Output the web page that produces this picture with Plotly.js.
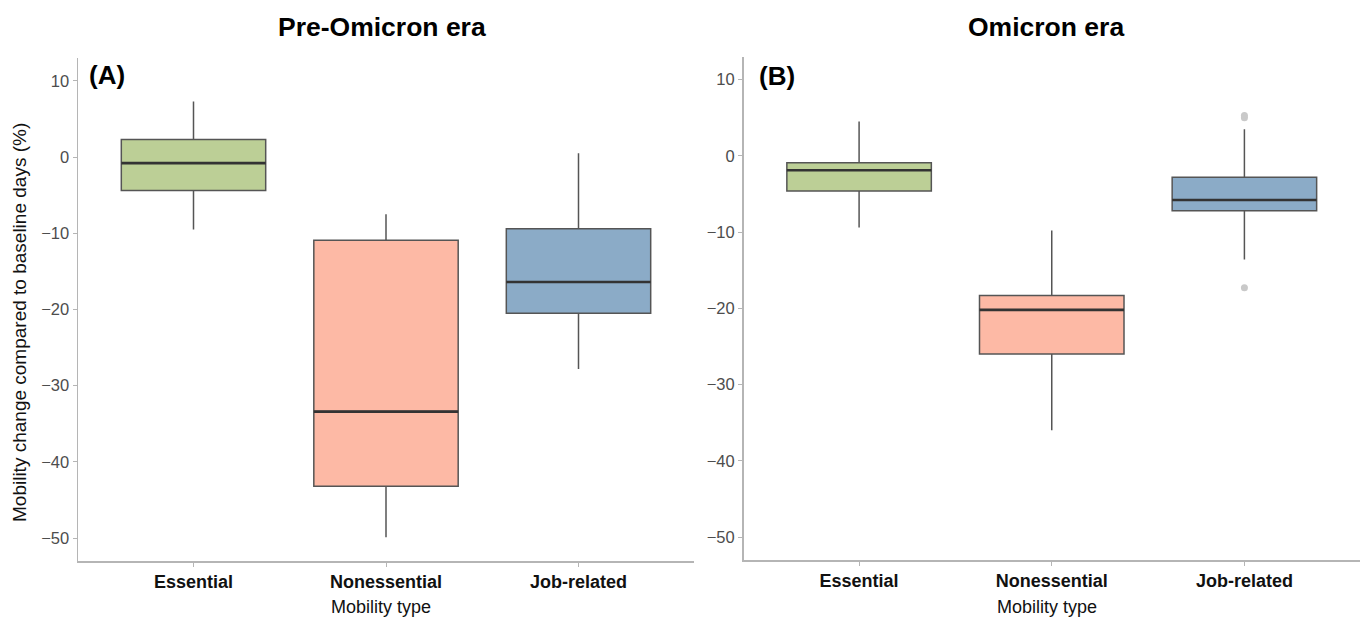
<!DOCTYPE html>
<html>
<head>
<meta charset="utf-8">
<script src="https://cdn.plot.ly/plotly-3.0.1.min.js"></script>
<style>html,body{margin:0;padding:0;background:#fff;}#chart{width:1366px;height:619px;}</style>
</head>
<body>
<div id="chart"></div>
<script>
const categories = ['Essential', 'Nonessential', 'Job-related'];
const colors = ['#BCCF96', '#FDB9A5', '#8BABC7'];
const panelTitles = ['Pre-Omicron era', 'Omicron era'];
const panelLabels = ['(A)', '(B)'];
const yTicks = [10, 0, -10, -20, -30, -40, -50];

const preLower  = [-9.5, -49.9, -27.8];
const preQ1     = [-4.4, -43.2, -20.5];
const preMedian = [-0.8, -33.4, -16.4];
const preQ3     = [2.3, -10.9, -9.4];
const preUpper  = [7.3, -7.5, 0.5];

const omiLower  = [-9.4, -36.0, -13.6];
const omiQ1     = [-4.6, -26.0, -7.2];
const omiMedian = [-1.9, -20.2, -5.8];
const omiQ3     = [-0.9, -18.3, -2.8];
const omiUpper  = [4.5, -9.8, 3.5];

const omiOutlierX = ['Job-related', 'Job-related', 'Job-related'];
const omiOutlierY = [5.0, 5.3, -17.3];

const FONT = 'Liberation Sans, Arial, Helvetica, sans-serif';
const traces = [];
function addPanel(lower, q1, med, q3, upper, xa, ya) {
  categories.forEach((c, i) => {
    traces.push({
      type: 'box', x: [c], q1: [q1[i]], median: [med[i]], q3: [q3[i]],
      lowerfence: [lower[i]], upperfence: [upper[i]],
      boxpoints: false, width: 0.75, fillcolor: colors[i],
      line: {color: '#555555', width: 1.5}, whiskerwidth: 0,
      xaxis: xa, yaxis: ya, showlegend: false, hoverinfo: 'skip'
    });
    traces.push({
      type: 'box', x: [c], q1: [med[i]], median: [med[i]], q3: [med[i]],
      lowerfence: [med[i]], upperfence: [med[i]],
      boxpoints: false, width: 0.75, fillcolor: 'rgba(0,0,0,0)',
      line: {color: '#333333', width: 2.6}, whiskerwidth: 0,
      xaxis: xa, yaxis: ya, showlegend: false, hoverinfo: 'skip'
    });
  });
}
addPanel(preLower, preQ1, preMedian, preQ3, preUpper, 'x', 'y');
addPanel(omiLower, omiQ1, omiMedian, omiQ3, omiUpper, 'x2', 'y2');
traces.push({
  type: 'scatter', mode: 'markers', x: omiOutlierX, y: omiOutlierY,
  marker: {color: '#c9c9c9', size: 7}, xaxis: 'x2', yaxis: 'y2',
  showlegend: false, hoverinfo: 'skip'
});

function xax(domain) {
  return {
    domain: domain, type: 'category', categoryorder: 'array', categoryarray: categories,
    range: [-0.6, 2.6], showline: true, linecolor: '#b5b5b5', linewidth: 1.5,
    ticks: 'outside', ticklen: 4, tickcolor: '#b5b5b5', tickwidth: 1,
    showgrid: false, zeroline: false, fixedrange: true,
    tickfont: {family: FONT, size: 18, color: '#111', weight: 'bold'}
  };
}
function yax(domain, anchor) {
  return {
    domain: domain, anchor: anchor, range: [-53, 13], tickvals: yTicks,
    showline: true, linecolor: '#b5b5b5', linewidth: 1.5,
    ticks: 'outside', ticklen: 4, tickcolor: '#b5b5b5', tickwidth: 1,
    showgrid: false, zeroline: false, fixedrange: true,
    tickfont: {family: FONT, size: 16.5, color: '#4d4d4d'}
  };
}

const W = 1366, H = 619;
const layout = {
  width: W, height: H, margin: {l: 0, r: 0, t: 0, b: 0},
  paper_bgcolor: '#fff', plot_bgcolor: '#fff', boxmode: 'overlay',
  xaxis: Object.assign(xax([78 / W, 694 / W]), {anchor: 'y'}),
  yaxis: yax([1 - 561 / H, 1 - 58 / H], 'x'),
  xaxis2: Object.assign(xax([743.5 / W, 1360 / W]), {anchor: 'y2'}),
  yaxis2: yax([1 - 560 / H, 1 - 56.7 / H], 'x2'),
  annotations: [
    {text: panelTitles[0], x: 382 / W, y: 1 - 27 / H, xref: 'paper', yref: 'paper', showarrow: false,
     xanchor: 'center', yanchor: 'middle', font: {family: FONT, size: 26.5, color: '#000', weight: 'bold'}},
    {text: panelTitles[1], x: 1046 / W, y: 1 - 27 / H, xref: 'paper', yref: 'paper', showarrow: false,
     xanchor: 'center', yanchor: 'middle', font: {family: FONT, size: 26.5, color: '#000', weight: 'bold'}},
    {text: panelLabels[0], x: 107 / W, y: 1 - 75 / H, xref: 'paper', yref: 'paper', showarrow: false,
     xanchor: 'center', yanchor: 'middle', font: {family: FONT, size: 26, color: '#000', weight: 'bold'}},
    {text: panelLabels[1], x: 777 / W, y: 1 - 76 / H, xref: 'paper', yref: 'paper', showarrow: false,
     xanchor: 'center', yanchor: 'middle', font: {family: FONT, size: 26, color: '#000', weight: 'bold'}},
    {text: 'Mobility type', x: 381 / W, y: 1 - 607 / H, xref: 'paper', yref: 'paper', showarrow: false,
     xanchor: 'center', yanchor: 'middle', font: {family: FONT, size: 18, color: '#111'}},
    {text: 'Mobility type', x: 1047 / W, y: 1 - 607 / H, xref: 'paper', yref: 'paper', showarrow: false,
     xanchor: 'center', yanchor: 'middle', font: {family: FONT, size: 18, color: '#111'}},
    {text: 'Mobility change compared to baseline days (%)', x: 19 / W, y: 1 - 323 / H, xref: 'paper', yref: 'paper',
     showarrow: false, textangle: -90, xanchor: 'center', yanchor: 'middle',
     font: {family: FONT, size: 19, color: '#111'}}
  ]
};
Plotly.newPlot('chart', traces, layout, {displayModeBar: false, staticPlot: true});
</script>
</body>
</html>
